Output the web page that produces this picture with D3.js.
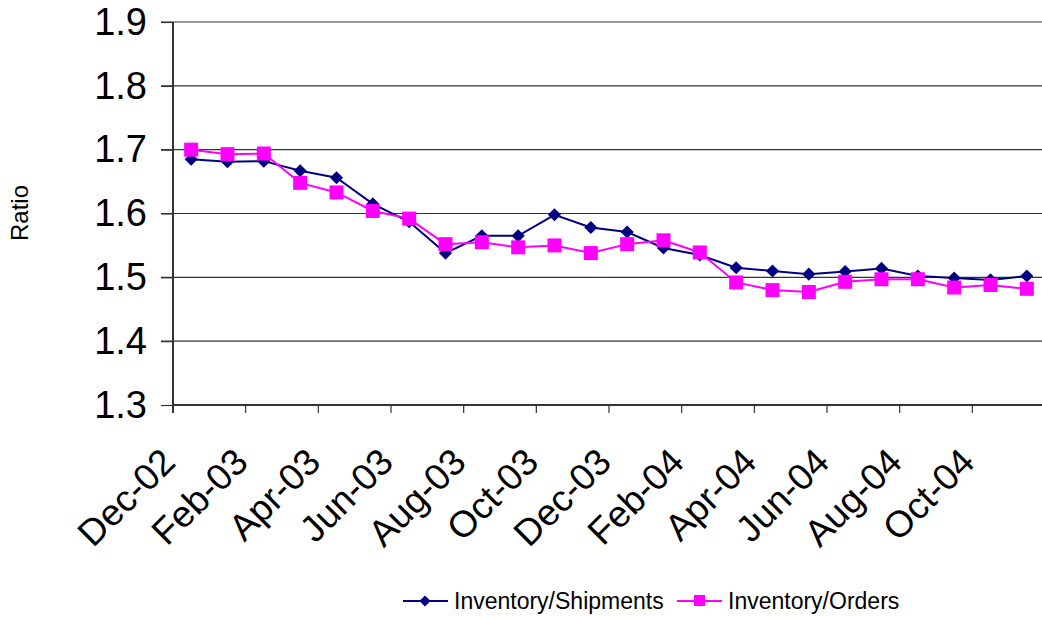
<!DOCTYPE html>
<html>
<head>
<meta charset="utf-8">
<script src="https://cdn.jsdelivr.net/npm/d3@7"></script>
<style>
  body { margin: 0; background: #fff; }
  text { font-family: "Liberation Sans", Arial, sans-serif; fill: #000; }
</style>
</head>
<body>
<div id="chart"></div>
<script>
// data
var months = ['Dec-02','Jan-03','Feb-03','Mar-03','Apr-03','May-03','Jun-03','Jul-03','Aug-03','Sep-03','Oct-03','Nov-03',
  'Dec-03','Jan-04','Feb-04','Mar-04','Apr-04','May-04','Jun-04','Jul-04','Aug-04','Sep-04','Oct-04','Nov-04'];
var shipments = [1.685,1.681,1.682,1.667,1.656,1.615,1.587,1.538,1.565,1.565,1.598,1.578,
  1.571,1.546,1.535,1.515,1.510,1.505,1.509,1.514,1.502,1.499,1.496,1.502];
var orders = [1.700,1.693,1.694,1.648,1.633,1.604,1.592,1.552,1.555,1.547,1.550,1.538,
  1.552,1.558,1.539,1.492,1.480,1.477,1.493,1.497,1.497,1.484,1.488,1.482];
var yTicks = [1.3,1.4,1.5,1.6,1.7,1.8,1.9];
var seriesNames = ['Inventory/Shipments','Inventory/Orders'];

var W = 1042, H = 617;
var mLeft = 173, mRight = 1045, mTop = 22, mBottom = 405;
var navy = '#000080', pink = '#ff00ff';

var svg = d3.select('#chart').append('svg').attr('width', W).attr('height', H);

var x = d3.scaleBand().domain(months).range([mLeft, mRight]);
var y = d3.scaleLinear().domain([1.3, 1.9]).range([mBottom, mTop]);

//网格线
svg.append('g').selectAll('line').data(yTicks.slice(1)).enter().append('line')
  .attr('x1', mLeft - 12).attr('x2', mRight)
  .attr('y1', function(d) { return y(d); }).attr('y2', function(d) { return y(d); })
  .attr('stroke', '#333').attr('stroke-width', 1.2);

//y轴
var yAxis = svg.append('g').attr('transform', 'translate(' + mLeft + ',0)')
  .call(d3.axisLeft(y).tickValues(yTicks).tickSize(12).tickPadding(14).tickFormat(d3.format('.1f')));
yAxis.select('.domain').attr('stroke', '#333').attr('stroke-width', 2).attr('d', 'M0,' + mTop + 'V' + (mBottom + 8));
yAxis.selectAll('.tick line').attr('stroke', '#333').attr('stroke-width', 1.2);
yAxis.selectAll('text').style('font-size', '38px').attr('font-family', null).attr('fill', '#000');

//x轴
svg.append('line').attr('x1', mLeft).attr('x2', mRight).attr('y1', mBottom).attr('y2', mBottom)
  .attr('stroke', '#333').attr('stroke-width', 2);
var tickIdx = d3.range(0, months.length, 2);
svg.append('g').selectAll('line').data(tickIdx).enter().append('line')
  .attr('x1', function(i) { return x(months[i]); }).attr('x2', function(i) { return x(months[i]); })
  .attr('y1', mBottom).attr('y2', mBottom + 8)
  .attr('stroke', '#333').attr('stroke-width', 1.2);
svg.append('g').selectAll('text').data(tickIdx).enter().append('text')
  .attr('transform', function(i) {
    return 'translate(' + (x(months[i]) + x.bandwidth() / 2 - 23) + ',455)rotate(-45)';
  })
  .attr('text-anchor', 'end').attr('dy', '0.35em')
  .style('font-size', '37px')
  .text(function(i) { return months[i]; });

//y轴标题
svg.append('text').attr('transform', 'translate(28,213)rotate(-90)')
  .attr('text-anchor', 'middle').style('font-size', '24px').text('Ratio');

var cx = function(d, i) { return x(months[i]) + x.bandwidth() / 2; };
var line = d3.line().x(cx).y(function(d) { return y(d); });

svg.append('path').datum(shipments).attr('d', line)
  .attr('fill', 'none').attr('stroke', navy).attr('stroke-width', 2);
svg.append('path').datum(orders).attr('d', line)
  .attr('fill', 'none').attr('stroke', pink).attr('stroke-width', 2);

var diamond = d3.symbol().type(d3.symbolDiamond2).size(110);
svg.append('g').selectAll('path').data(shipments).enter().append('path')
  .attr('d', diamond)
  .attr('transform', function(d, i) { return 'translate(' + cx(d, i) + ',' + y(d) + ')'; })
  .attr('fill', navy);
svg.append('g').selectAll('rect').data(orders).enter().append('rect')
  .attr('x', function(d, i) { return cx(d, i) - 7; }).attr('y', function(d) { return y(d) - 7; })
  .attr('width', 14).attr('height', 14).attr('fill', pink);

//图例
var legendY = 601;
var legendItems = [
  { name: seriesNames[0], color: navy, x0: 403, shape: 'diamond' },
  { name: seriesNames[1], color: pink, x0: 677, shape: 'square' }
];
var lg = svg.append('g').selectAll('g').data(legendItems).enter().append('g')
  .attr('transform', function(d) { return 'translate(' + d.x0 + ',' + legendY + ')'; });
lg.append('line').attr('x1', 0).attr('x2', 45).attr('stroke', function(d) { return d.color; }).attr('stroke-width', 2);
lg.each(function(d) {
  var g = d3.select(this);
  if (d.shape == 'diamond') {
    g.append('path').attr('d', d3.symbol().type(d3.symbolDiamond2).size(80)).attr('transform', 'translate(22,0)').attr('fill', d.color);
  } else {
    g.append('rect').attr('x', 17).attr('y', -6).attr('width', 11).attr('height', 11).attr('fill', d.color);
  }
});
lg.append('text').attr('x', 51).attr('dy', '0.35em').style('font-size', '23px').text(function(d) { return d.name; });
</script>
</body>
</html>
